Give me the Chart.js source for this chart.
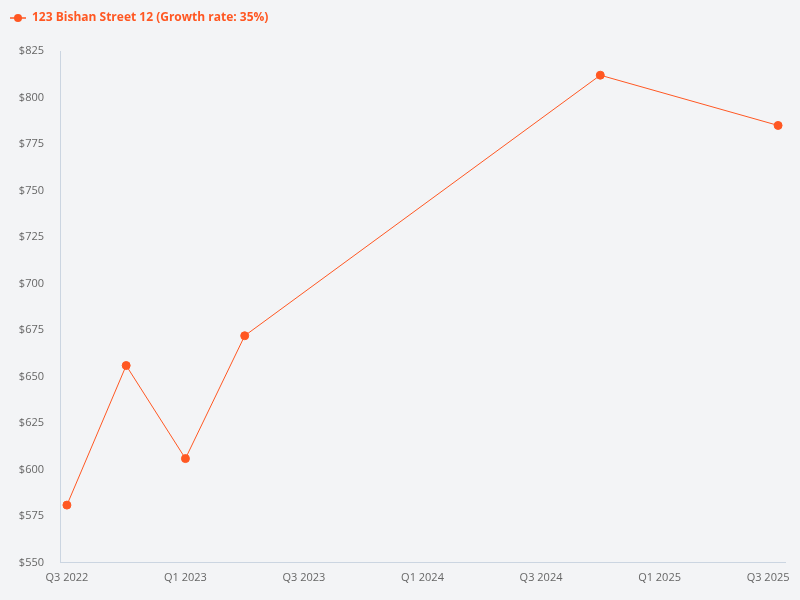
<!DOCTYPE html>
<html>
<head>
<meta charset="utf-8">
<script src="https://cdn.jsdelivr.net/npm/chart.js@4"></script>
<style>
  html, body { margin: 0; padding: 0; background: #f3f4f6; }
  #wrap { width: 800px; height: 600px; }
</style>
</head>
<body>
<div id="wrap"><canvas id="price-chart"></canvas></div>
<script>
// Quarter start months of each reading (YYYY-MM)
const periods = ['2022-07', '2022-10', '2023-01', '2023-04', '2024-10', '2025-07'];
const prices = [581, 656, 606, 672, 812, 785];
const seriesName = '123 Bishan Street 12 (Growth rate: 35%)';
const tickMonths = [0, 6, 12, 18, 24, 30, 36];
const tickLabels = ['Q3 2022', 'Q1 2023', 'Q3 2023', 'Q1 2024', 'Q3 2024', 'Q1 2025', 'Q3 2025'];

const orange = '#ff5722';

// months counted from Jul 2022
function monthIndex(p) {
    const [y, m] = p.split('-').map(Number);
    return (y - 2022) * 12 + (m - 7);
}

// legend marker: short line with a dot
function legendMarker() {
    const c = document.createElement('canvas');
    c.width = 16;
    c.height = 10;
    const g = c.getContext('2d');
    g.strokeStyle = orange;
    g.lineWidth = 1.5;
    g.beginPath();
    g.moveTo(0, 5);
    g.lineTo(16, 5);
    g.stroke();
    g.fillStyle = orange;
    g.beginPath();
    g.arc(8, 5, 4, 0, Math.PI * 2);
    g.fill();
    return c;
}

// a bit more room below the legend
const legendSpacer = {
    id: 'legendSpacer',
    beforeInit(chart) {
        const fit = chart.legend.fit;
        chart.legend.fit = function() {
            fit.bind(chart.legend)();
            this.height += 17;
        };
    }
};

// keep the last x label inside the canvas
const lastLabelNudge = {
    id: 'lastLabelNudge',
    beforeDraw(chart) {
        const items = chart.scales.x.getLabelItems();
        const last = items[items.length - 1];
        if (last && !last._nudged) {
            last.options.translation[0] -= 10;
            last._nudged = true;
        }
    }
};

document.addEventListener('DOMContentLoaded', function() {
    const ctx = document.getElementById('price-chart').getContext('2d');
    const marker = legendMarker();

    window.priceChart = new Chart(ctx, {
        type: 'line',
        data: {
            datasets: [{
                label: seriesName,
                data: periods.map((p, i) => ({ x: monthIndex(p), y: prices[i] })),
                borderColor: orange,
                backgroundColor: orange,
                borderWidth: 1,
                pointRadius: 4,
                pointHoverRadius: 4,
                pointStyle: 'circle',
                tension: 0
            }]
        },
        options: {
            responsive: true,
            maintainAspectRatio: false,
            animation: false,
            layout: { padding: { left: 0, right: 0, top: 2, bottom: 8 } },
            font: { family: 'Open Sans' },
            plugins: {
                legend: {
                    position: 'top',
                    align: 'start',
                    labels: {
                        usePointStyle: true,
                        pointStyle: marker,
                        pointStyleWidth: 16,
                        color: orange,
                        font: { family: 'Open Sans', size: 12, weight: 'bold' },
                        padding: 10
                    }
                },
                tooltip: { enabled: false }
            },
            scales: {
                x: {
                    type: 'linear',
                    min: -0.35,
                    max: 36.35,
                    afterBuildTicks: axis => { axis.ticks = tickMonths.map(v => ({ value: v })); },
                    afterFit: axis => { axis.paddingRight = 15; },
                    grid: { display: false, drawTicks: false },
                    border: { display: true, color: '#cbd5e1', width: 1 },
                    ticks: {
                        color: '#666',
                        font: { family: 'Open Sans', size: 11 },
                        padding: 8,
                        maxRotation: 0,
                        autoSkip: false,
                        callback: v => tickLabels[tickMonths.indexOf(v)]
                    }
                },
                y: {
                    min: 550,
                    max: 825,
                    afterFit: axis => { axis.width = 60; },
                    grid: { display: false, drawTicks: false },
                    border: { display: true, color: '#cbd5e1', width: 1 },
                    ticks: {
                        stepSize: 25,
                        color: '#666',
                        font: { family: 'Open Sans', size: 11 },
                        padding: 16,
                        callback: v => '$' + v
                    }
                }
            }
        },
        plugins: [legendSpacer, lastLabelNudge]
    });
});
</script>
</body>
</html>
